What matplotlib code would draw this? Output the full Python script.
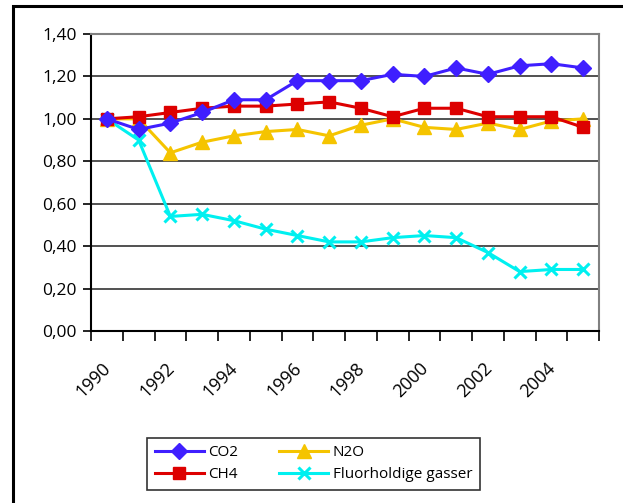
"""Utslipp av klimagasser, indeks 1990 = 1,00."""

import matplotlib.pyplot as plt
import matplotlib.transforms as mtransforms
from matplotlib.patches import Rectangle

years = [str(y) for y in range(1990, 2006)]
co2 = [1.00, 0.95, 0.98, 1.03, 1.09, 1.09, 1.18, 1.18, 1.18, 1.21, 1.20,
       1.24, 1.21, 1.25, 1.26, 1.24]
ch4 = [1.00, 1.01, 1.03, 1.05, 1.06, 1.06, 1.07, 1.08, 1.05, 1.01, 1.05,
       1.05, 1.01, 1.01, 1.01, 0.96]
n2o = [1.00, 1.00, 0.84, 0.89, 0.92, 0.94, 0.95, 0.92, 0.97, 1.00, 0.96,
       0.95, 0.98, 0.95, 0.99, 1.00]
fluor = [1.00, 0.90, 0.54, 0.55, 0.52, 0.48, 0.45, 0.42, 0.42, 0.44, 0.45,
         0.44, 0.37, 0.28, 0.29, 0.29]
y_ticks = [0.0, 0.2, 0.4, 0.6, 0.8, 1.0, 1.2, 1.4]
y_labels = ["0,00", "0,20", "0,40", "0,60", "0,80", "1,00", "1,20", "1,40"]

plt.rcParams["font.family"] = ["Open Sans", "DejaVu Sans"]

W, H = 623, 503
fig = plt.figure(figsize=(W / 100, H / 100), dpi=100)
ax = fig.add_axes([91 / W, 1 - 331 / H, (599 - 91) / W, (331 - 34) / H])

# ramme rundt hele figuren (bare venstre og topp synlig)
fig.patches.append(Rectangle((13 / W, -0.1), 1.2, 1 - 6 / H + 0.1,
                             transform=fig.transFigure, fill=False,
                             edgecolor="black", linewidth=2.2, zorder=0))

x = list(range(len(years)))
ax.plot(x, co2, color="#3f1fff", lw=2.2, marker="D", ms=8.5, label="CO2",
        zorder=6)
ax.plot(x, ch4, color="#dd0000", lw=2.2, marker="s", ms=8, label="CH4",
        zorder=5)
ax.plot(x, n2o, color="#f5c400", lw=2.2, marker="^", ms=10, label="N2O",
        zorder=4)
ax.plot(x, fluor, color="#00f0f0", lw=2.2, marker="x", ms=8, mew=2.2,
        label="Fluorholdige gasser", zorder=3)

ax.set_xlim(-0.5, len(years) - 0.5)
ax.set_ylim(0, 1.4)
ax.set_yticks(y_ticks, y_labels)
for v in y_ticks[1:]:
    ax.axhline(v, color="#333333", lw=1.2, zorder=1)

ax.set_xticks(x[::2], years[::2], rotation=45, ha="right",
              rotation_mode="anchor")
ax.set_xticks([i - 0.5 for i in range(len(years) + 1)], minor=True)
ax.tick_params(axis="x", which="major", length=0, pad=20, labelsize=13)
ax.tick_params(axis="x", which="minor", length=7, width=1.2, direction="out")
ax.tick_params(axis="y", length=6, width=1.2, labelsize=12.5, pad=4)
shift = mtransforms.ScaledTranslation(-5 / 100, 0, fig.dpi_scale_trans)
for lbl in ax.get_xticklabels():
    lbl.set_transform(lbl.get_transform() + shift)

for s in ("top", "right"):
    ax.spines[s].set_color("#808080")
    ax.spines[s].set_linewidth(1.5)
for s in ("left", "bottom"):
    ax.spines[s].set_linewidth(1.5)

leg = fig.legend(loc="lower left", ncol=2, mode="expand",
                 bbox_to_anchor=(147 / W, 1 - 490 / H, 333 / W, 57 / H),
                 borderaxespad=0, fontsize=11, frameon=True, fancybox=False,
                 edgecolor="black", handlelength=3.2, borderpad=0.5,
                 labelspacing=0.45, handletextpad=0.3)
leg.get_frame().set_linewidth(1.2)

fig.savefig("out.png", dpi=100)
